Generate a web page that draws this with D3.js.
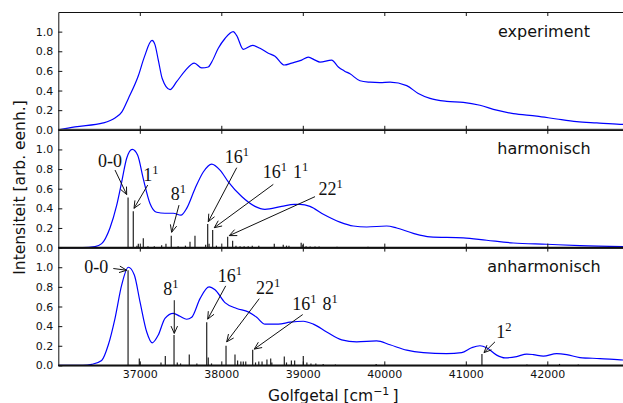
<!DOCTYPE html>
<html><head><meta charset="utf-8">
<script src="https://cdnjs.cloudflare.com/ajax/libs/d3/7.8.5/d3.min.js"></script>
<style>body{margin:0;background:#fff} svg{display:block}</style>
</head><body><svg id="c" width="623" height="403"></svg>
<script>
// ---- data ----
const xTicks = [37000, 38000, 39000, 40000, 41000, 42000];
const yTicks = [0.0, 0.2, 0.4, 0.6, 0.8, 1.0];
const panelNames = ["experiment", "harmonisch", "anharmonisch"];

const expWn  = [36000,36205,36552,36696,36778,36860,36982,37055,37150,37185,37227,37276,37371,37452,37555,37669,37759,37840,37882,37963,38045,38147,38189,38270,38385,38475,38577,38659,38773,38864,38986,39067,39150,39211,39354,39436,39509,39579,39702,39824,39947,40070,40275,40417,40561,40765,40969,41174,41379,41583,41870,42115,42361,42606,42892,43000];
const expInt = [0.0,0.03,0.07,0.12,0.18,0.32,0.55,0.74,0.91,0.87,0.71,0.52,0.41,0.49,0.60,0.68,0.63,0.64,0.69,0.83,0.93,1.0,0.96,0.82,0.86,0.83,0.78,0.75,0.66,0.68,0.71,0.74,0.71,0.69,0.71,0.64,0.60,0.57,0.50,0.485,0.48,0.486,0.45,0.37,0.32,0.29,0.28,0.25,0.20,0.165,0.14,0.11,0.083,0.07,0.056,0.053];

const harmWn  = [36000,36300,36450,36532,36634,36716,36778,36839,36908,36974,37043,37125,37207,37309,37411,37505,37575,37677,37779,37882,37984,38086,38250,38413,38536,38741,38896,38966,39088,39252,39456,39620,39784,40029,40152,40356,40561,40969,41256,41583,41993,42401,43000];
const harmInt = [0,0,0.01,0.04,0.20,0.43,0.67,0.91,1.0,0.94,0.70,0.45,0.36,0.35,0.35,0.33,0.40,0.60,0.77,0.85,0.79,0.67,0.52,0.42,0.39,0.42,0.44,0.44,0.42,0.34,0.26,0.22,0.21,0.22,0.20,0.145,0.11,0.10,0.075,0.047,0.034,0.02,0.008];

const anhWn  = [36000,36300,36410,36532,36614,36696,36778,36859,36933,37002,37085,37153,37227,37309,37411,37493,37575,37637,37739,37850,37923,38045,38189,38331,38434,38536,38699,38843,39006,39129,39293,39477,39661,39906,40070,40275,40479,40765,40949,41072,41174,41256,41379,41481,41624,41747,41828,41951,42115,42238,42401,42647,42929,43000];
const anhInt = [0,0,0.01,0.05,0.21,0.48,0.82,1.0,0.92,0.65,0.34,0.23,0.31,0.48,0.53,0.50,0.47,0.49,0.68,0.80,0.77,0.64,0.58,0.545,0.49,0.42,0.42,0.44,0.45,0.42,0.34,0.26,0.24,0.25,0.21,0.155,0.13,0.12,0.13,0.18,0.20,0.18,0.105,0.077,0.09,0.115,0.11,0.095,0.12,0.11,0.08,0.07,0.055,0.053];

const harmStickWn  = [36856,36920,36965,36982,37043,37100,37178,37268,37321,37386,37470,37560,37616,37677,37808,37833,37850,37894,37940,38078,38139,38180,38230,38280,38330,38380,38460,38650,38760,38800,38830,38980,39000,39040,39090,39150,39200,39420,39800];
const harmStickInt = [0.51,0.37,0.02,0.04,0.095,0.015,0.015,0.025,0.04,0.12,0.015,0.02,0.06,0.12,0.03,0.24,0.04,0.18,0.02,0.11,0.07,0.02,0.015,0.015,0.015,0.02,0.02,0.04,0.03,0.02,0.02,0.05,0.03,0.015,0.01,0.01,0.01,0.008,0.008];

const anhStickWn  = [36856,36994,37260,37313,37420,37460,37500,37607,37700,37821,37840,37880,38058,38168,38200,38240,38270,38300,38385,38420,38460,38500,38560,38606,38620,38773,38800,38860,38900,39006,39050,39100,39160,39250,39400,39900,41198,41750,42150,42380];
const anhStickInt = [0.97,0.07,0.03,0.095,0.31,0.03,0.02,0.11,0.02,0.44,0.08,0.02,0.20,0.11,0.05,0.04,0.04,0.04,0.16,0.03,0.04,0.04,0.06,0.07,0.03,0.09,0.03,0.05,0.05,0.095,0.03,0.02,0.02,0.015,0.01,0.015,0.115,0.01,0.015,0.01];

// annotations: label parts [main, superscript], text baseline centre, arrow tail, arrow tip (data coords)
const harmNotes = [
  {t:[["0-0",""]],        tx:36634, ty:0.82,  ax:36696, ay:0.79,  bx:36839, by:0.54},
  {t:[["1","1"]],         tx:37146, ty:0.674, ax:37097, ay:0.637, bx:36929, by:0.40},
  {t:[["8","1"]],         tx:37483, ty:0.484, ax:37481, ay:0.433, bx:37391, by:0.156},
  {t:[["16","1"]],        tx:38201, ty:0.858, ax:38189, ay:0.814, bx:37840, by:0.264},
  {t:[["16","1"],[" 1","1"]], tx:38796, ty:0.705, ax:38638, ay:0.644, bx:37914, by:0.203},
  {t:[["22","1"]],        tx:39350, ty:0.535, ax:39150, ay:0.519, bx:38098, by:0.122}
];
const anhNotes = [
  {t:[["0-0",""]],        tx:36466, ty:0.946, ax:36675, ay:0.987, bx:36839, by:0.969},
  {t:[["8","1"]],         tx:37391, ty:0.715, ax:37423, ay:0.664, bx:37423, by:0.326},
  {t:[["16","1"]],        tx:38113, ty:0.85,  ax:38054, ay:0.81,  bx:37833, by:0.471},
  {t:[["22","1"]],        tx:38583, ty:0.732, ax:38466, ay:0.68,  bx:38066, by:0.24},
  {t:[["16","1"],[" 8","1"]], tx:39160, ty:0.563, ax:38999, ay:0.518, bx:38405, by:0.166},
  {t:[["1","2"]],         tx:41475, ty:0.275, ax:41358, ay:0.24,  bx:41223, by:0.13}
];

(function () {
// ---- layout ----
const L0 = 58.3, R0 = 628.8, T0 = 12, ph = 117.8;
const svg = d3.select("#c");
const x = d3.scaleLinear().domain([36000, 43000]).range([L0, R0]);
const sans = "DejaVu Sans, sans-serif";
const serif = "Liberation Serif, DejaVu Serif, serif";

const panels = [
  {curveX: expWn, curveY: expInt, sx: null, sy: null, notes: []},
  {curveX: harmWn, curveY: harmInt, sx: harmStickWn, sy: harmStickInt, notes: harmNotes},
  {curveX: anhWn, curveY: anhInt, sx: anhStickWn, sy: anhStickInt, notes: anhNotes}
];

panels.forEach((p, i) => {
  const y0 = T0 + ph * i, y1 = T0 + ph * (i + 1);
  const y = d3.scaleLinear().domain([0, 1.2]).range([y1, y0]);
  const g = svg.append("g");

  if (p.sx) {
    g.selectAll("line.stick").data(p.sx.map((v, k) => [v, p.sy[k]])).enter()
      .append("line").attr("class", "stick")
      .attr("x1", d => x(d[0])).attr("x2", d => x(d[0]))
      .attr("y1", y(0)).attr("y2", d => y(d[1]))
      .attr("stroke", "#222").attr("stroke-width", 1.2);
  }
  const line = d3.line().x(d => x(d[0])).y(d => y(d[1])).curve(d3.curveMonotoneX);
  g.append("path").datum(p.curveX.map((v, k) => [v, p.curveY[k]]))
    .attr("d", line).attr("fill", "none").attr("stroke", "#0000ff").attr("stroke-width", 1.2);

  g.append("line").attr("x1", L0).attr("x2", R0).attr("y1", y(0)).attr("y2", y(0))
    .attr("stroke", i === 0 ? "#555" : "#111").attr("stroke-width", i === 0 ? 2.2 : 1.6);

  const ax = g.append("g").attr("transform", `translate(${L0},0)`)
    .call(d3.axisLeft(y).tickValues(yTicks).tickFormat(d3.format(".1f")).tickSize(-4).tickSizeOuter(0).tickPadding(5));
  const bx = g.append("g").attr("transform", `translate(0,${y1})`)
    .call(d3.axisBottom(x).tickValues(xTicks).tickSize(-4).tickSizeOuter(0).tickPadding(5)
      .tickFormat(i === 2 ? d3.format("d") : () => ""));
  const tx = g.append("g").attr("transform", `translate(0,${y0})`)
    .call(d3.axisTop(x).tickValues(xTicks).tickSize(-4).tickSizeOuter(0).tickFormat(() => ""));
  [ax, bx, tx].forEach(a => {
    a.selectAll("text").attr("font-family", sans).attr("font-size", 11).attr("fill", "#111");
    a.selectAll("line").attr("stroke", "#111");
    a.select(".domain").attr("stroke", "#111").attr("stroke-width", 1);
  });

  g.append("text").attr("x", 544).attr("y", y0 + 24.5).attr("text-anchor", "middle")
    .attr("font-family", sans).attr("font-size", 16).attr("fill", "#111").text(panelNames[i]);

  p.notes.forEach(n => {
    const t = g.append("text").attr("x", x(n.tx)).attr("y", y(n.ty)).attr("text-anchor", "middle")
      .attr("font-family", serif).attr("font-size", 18).attr("fill", "#111");
    n.t.forEach(([m, s]) => {
      t.append("tspan").text(m);
      if (s) {
        t.append("tspan").attr("font-size", 12.5).attr("dy", -7).text(s);
        t.append("tspan").attr("font-size", 18).attr("dy", 7).text("\u200a");
      }
    });
    const xa = x(n.ax), ya = y(n.ay), xb = x(n.bx), yb = y(n.by);
    g.append("line").attr("x1", xa).attr("y1", ya).attr("x2", xb).attr("y2", yb)
      .attr("stroke", "#111").attr("stroke-width", 1);
    const ang = Math.atan2(yb - ya, xb - xa), HL = 8, w = 0.42;
    const hp = [[xb - HL * Math.cos(ang - w), yb - HL * Math.sin(ang - w)], [xb, yb],
                [xb - HL * Math.cos(ang + w), yb - HL * Math.sin(ang + w)]];
    g.append("path").attr("d", d3.line()(hp)).attr("fill", "none")
      .attr("stroke", "#111").attr("stroke-width", 1);
  });
});

const xl = svg.append("text").attr("x", 333.3).attr("y", 400.5).attr("text-anchor", "middle")
  .attr("font-family", sans).attr("font-size", 15.5).attr("fill", "#111");
xl.append("tspan").text("Golfgetal [cm");
xl.append("tspan").attr("font-size", 11).attr("dy", -6).text("\u22121");
xl.append("tspan").attr("dy", 6).text("\u2009]");

svg.append("text").attr("transform", "translate(24.5,187.5) rotate(-90)").attr("text-anchor", "middle")
  .attr("font-family", sans).attr("font-size", 15.5).attr("fill", "#111").text("Intensiteit [arb. eenh.]");
})();
</script>
</body></html>
